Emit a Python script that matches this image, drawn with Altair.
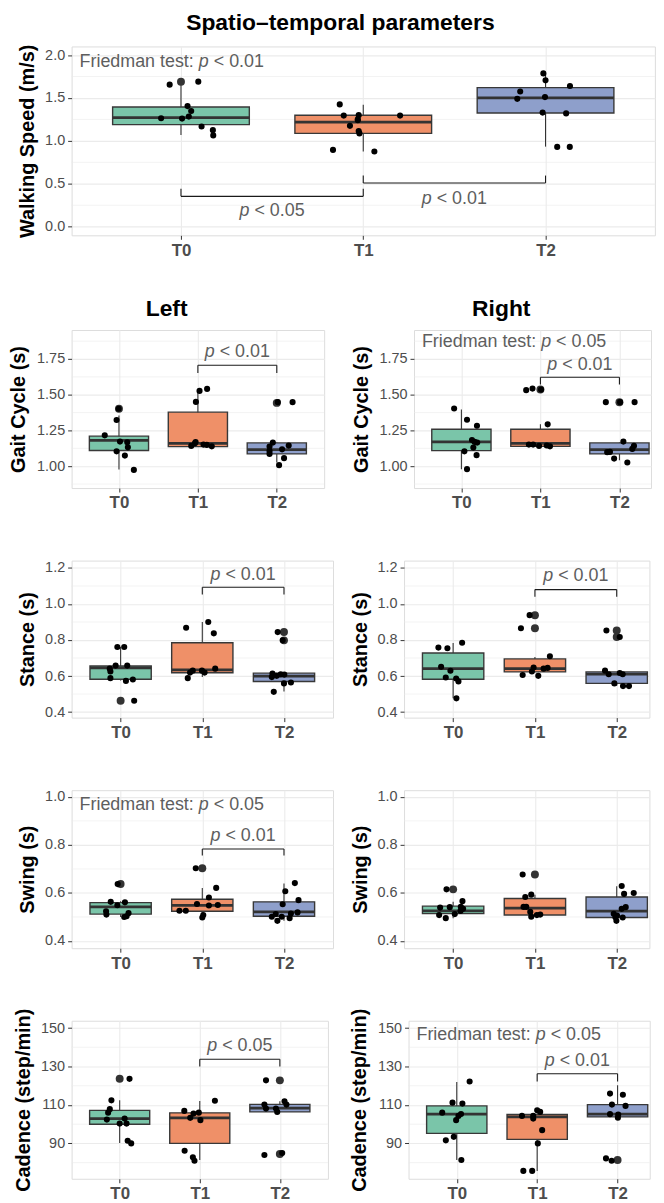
import altair as alt
import pandas as pd

FONT = "Liberation Sans"
GROUPS = ["T0", "T1", "T2"]
COLORS = ["#7AC5A9", "#EF9068", "#8E9FCB"]

# ---------------- data ----------------
# box stats per group: [whisker low, Q1, median, Q3, whisker high]
SPEED_STATS = [[1.068, 1.19, 1.272, 1.394, 1.71], [0.876, 1.087, 1.218, 1.298, 1.42], [0.933, 1.325, 1.502, 1.621, 1.786]]
# jittered points: (group, jitter offset, value)
SPEED_POINTS = [
    (0, -0.062, 1.655), (0, 0.095, 1.69), (0, 0.036, 1.405), (0, 0.056, 1.348), (0, 0.043, 1.283),
    (0, -0.109, 1.264), (0, 0.006, 1.26), (0, 0.113, 1.168), (0, 0.175, 1.125), (0, 0.177, 1.064),
    (1, -0.129, 1.425), (1, -0.107, 1.295), (1, -0.025, 1.30), (1, -0.03, 1.252), (1, -0.03, 1.24),
    (1, -0.073, 1.175), (1, -0.025, 1.114), (1, -0.021, 1.087), (1, 0.202, 1.295), (1, -0.166, 0.895), (1, 0.061, 0.876),
    (2, -0.012, 1.786), (2, 0.0, 1.705), (2, 0.134, 1.64), (2, -0.139, 1.575), (2, -0.155, 1.49),
    (2, -0.003, 1.51), (2, -0.016, 1.33), (2, 0.113, 1.32), (2, 0.064, 0.93), (2, 0.133, 0.93)]
SPEED_OUTLIERS = [(0, 1.69)]
# brackets: (from group, to group, line value, tick end value, label value, label)
SPEED_BRACKETS = [(0, 1, 0.354, 0.442, 0.181, "< 0.05"), (1, 2, 0.51, 0.596, 0.327, "< 0.01")]
SPEED_FRIEDMAN = (1.924, "< 0.01")

GAIT_L_STATS = [[0.977, 1.11, 1.18, 1.21, 1.355], [1.137, 1.137, 1.16, 1.378, 1.52], [1.026, 1.086, 1.116, 1.163, 1.165]]
GAIT_L_POINTS = [
    (0, -0.004, 1.402), (0, -0.03, 1.323), (0, -0.18, 1.216), (0, 0.013, 1.172), (0, 0.105, 1.167),
    (0, 0.113, 1.132), (0, -0.03, 1.104), (0, 0.075, 1.074), (0, 0.189, 0.974),
    (1, 0.117, 1.541), (1, 0.021, 1.527), (1, -0.025, 1.45), (1, -0.029, 1.169), (1, -0.084, 1.142),
    (1, 0.071, 1.151), (1, 0.113, 1.149), (1, 0.176, 1.139), (1, -0.037, 1.16),
    (2, 0.013, 1.448), (2, 0.2, 1.448), (2, -0.05, 1.165), (2, -0.092, 1.137), (2, 0.151, 1.144),
    (2, 0.067, 1.118), (2, -0.092, 1.107), (2, -0.092, 1.086), (2, 0.092, 1.056), (2, 0.029, 1.007)]
GAIT_L_OUTLIERS = [(0, 1.402), (2, 1.443)]
GAIT_L_BRACKETS = [(1, 2, 1.706, 1.652, 1.796, "< 0.01")]

GAIT_R_STATS = [[0.979, 1.109, 1.17, 1.258, 1.397], [1.139, 1.139, 1.16, 1.258, 1.293], [1.042, 1.086, 1.116, 1.163, 1.165]]
GAIT_R_POINTS = [
    (0, -0.092, 1.404), (0, 0.071, 1.325), (0, 0.197, 1.283), (0, 0.134, 1.183), (0, 0.2, 1.165),
    (0, 0.151, 1.13), (0, 0.038, 1.104), (0, 0.192, 1.077), (0, 0.071, 0.979), (0, 0.167, 1.17),
    (1, -0.18, 1.532), (1, -0.1, 1.543), (1, 0.008, 1.536), (1, 0.092, 1.293), (1, -0.146, 1.151),
    (1, -0.092, 1.151), (1, -0.017, 1.142), (1, 0.121, 1.139), (1, 0.08, 1.145),
    (2, -0.172, 1.448), (2, 0.008, 1.448), (2, 0.192, 1.448), (2, 0.05, 1.172), (2, 0.184, 1.142),
    (2, 0.163, 1.121), (2, -0.155, 1.098), (2, -0.12, 1.10), (2, -0.067, 1.053), (2, 0.1, 1.026)]
GAIT_R_OUTLIERS = [(1, 1.536), (2, 1.448)]
GAIT_R_BRACKETS = [(1, 2, 1.622, 1.571, 1.711, "< 0.01")]
GAIT_R_FRIEDMAN = (1.866, "< 0.05")

STANCE_L_STATS = [[0.575, 0.582, 0.645, 0.656, 0.761], [0.595, 0.618, 0.634, 0.785, 0.9], [0.514, 0.57, 0.6, 0.616, 0.616]]
STANCE_L_POINTS = [
    (0, -0.04, 0.761), (0, 0.044, 0.761), (0, -0.061, 0.658), (0, -0.133, 0.641), (0, -0.125, 0.625),
    (0, 0.081, 0.658), (0, -0.125, 0.588), (0, 0.065, 0.573), (0, 0.15, 0.581), (0, 0.166, 0.463),
    (1, 0.073, 0.9), (1, -0.198, 0.868), (1, 0.141, 0.837), (1, -0.117, 0.63), (1, -0.004, 0.63),
    (1, 0.158, 0.641), (1, -0.15, 0.619), (1, 0.028, 0.619), (1, -0.178, 0.588),
    (2, -0.077, 0.844), (2, -0.016, 0.798), (2, -0.141, 0.614), (2, -0.04, 0.61), (2, 0.004, 0.608),
    (2, -0.149, 0.594), (2, -0.089, 0.601), (2, 0.0, 0.559), (2, 0.085, 0.564), (2, -0.125, 0.512)]
STANCE_L_OUTLIERS = [(0, 0.463), (2, 0.844), (2, 0.798)]
STANCE_L_BRACKETS = [(1, 2, 1.093, 1.053, 1.163, "< 0.01")]

STANCE_R_STATS = [[0.477, 0.582, 0.641, 0.728, 0.783], [0.623, 0.623, 0.641, 0.695, 0.706], [0.546, 0.559, 0.61, 0.623, 0.623]]
STANCE_R_POINTS = [
    (0, -0.18, 0.758), (0, -0.07, 0.754), (0, 0.11, 0.785), (0, -0.147, 0.651), (0, -0.033, 0.629),
    (0, -0.09, 0.592), (0, 0.037, 0.586), (0, 0.065, 0.57), (0, 0.04, 0.476),
    (1, -0.065, 0.938), (1, -0.171, 0.865), (1, 0.183, 0.71), (1, -0.016, 0.647), (1, 0.106, 0.641),
    (1, 0.155, 0.645), (1, -0.037, 0.625), (1, -0.15, 0.606), (1, 0.041, 0.601),
    (2, -0.126, 0.853), (2, 0.037, 0.817), (2, -0.143, 0.63), (2, -0.098, 0.61), (2, 0.037, 0.617),
    (2, 0.073, 0.61), (2, -0.029, 0.559), (2, 0.077, 0.544), (2, 0.15, 0.544)]
STANCE_R_OUTLIERS = [(1, 0.938), (1, 0.865), (2, 0.853), (2, 0.817)]
STANCE_R_BRACKETS = [(1, 2, 1.08, 1.04, 1.154, "< 0.01")]

SWING_L_STATS = [[0.5, 0.512, 0.542, 0.56, 0.565], [0.498, 0.524, 0.548, 0.574, 0.621], [0.484, 0.503, 0.521, 0.563, 0.639]]
SWING_L_POINTS = [
    (0, -0.036, 0.637), (0, -0.121, 0.563), (0, -0.04, 0.549), (0, 0.053, 0.561), (0, -0.178, 0.524),
    (0, -0.174, 0.51), (0, 0.097, 0.516), (0, 0.073, 0.503), (0, 0.044, 0.5),
    (1, -0.08, 0.703), (1, 0.17, 0.621), (1, 0.081, 0.581), (1, -0.065, 0.554), (1, 0.081, 0.548),
    (1, 0.19, 0.55), (1, -0.28, 0.526), (1, -0.202, 0.526), (1, 0.012, 0.508), (1, 0.0, 0.498),
    (2, 0.133, 0.641), (2, 0.016, 0.607), (2, 0.178, 0.57), (2, -0.016, 0.553), (2, 0.166, 0.519),
    (2, 0.085, 0.514), (2, -0.101, 0.512), (2, -0.149, 0.501), (2, -0.028, 0.501), (2, 0.069, 0.495), (2, -0.081, 0.484)]
SWING_L_OUTLIERS = [(0, 0.637), (1, 0.703)]
SWING_L_BRACKETS = [(1, 2, 0.783, 0.756, 0.836, "< 0.01")]
SWING_L_FRIEDMAN = (0.966, "< 0.05")

SWING_R_STATS = [[0.495, 0.514, 0.525, 0.545, 0.563], [0.501, 0.508, 0.537, 0.577, 0.593], [0.484, 0.498, 0.524, 0.583, 0.628]]
SWING_R_POINTS = [
    (0, -0.081, 0.615), (0, 0.114, 0.566), (0, -0.041, 0.541), (0, -0.159, 0.539), (0, 0.094, 0.542),
    (0, 0.122, 0.534), (0, 0.09, 0.525), (0, -0.171, 0.508), (0, 0.02, 0.512), (0, -0.09, 0.495),
    (1, -0.15, 0.677), (1, -0.045, 0.593), (1, -0.118, 0.583), (1, -0.139, 0.542), (1, -0.106, 0.542),
    (1, -0.057, 0.521), (1, -0.045, 0.501), (1, 0.024, 0.508), (1, 0.065, 0.51),
    (2, 0.061, 0.629), (2, 0.09, 0.596), (2, 0.208, 0.6), (2, 0.11, 0.541), (2, 0.061, 0.534),
    (2, -0.037, 0.513), (2, 0.004, 0.506), (2, -0.016, 0.499), (2, 0.073, 0.498), (2, -0.004, 0.484)]
SWING_R_OUTLIERS = [(0, 0.615), (1, 0.677)]

CAD_L_STATS = [[90.2, 100.0, 102.9, 107.2, 112.4], [81.4, 90.0, 103.3, 105.9, 112.1], [106.4, 106.4, 108.4, 110.3, 111.9]]
CAD_L_POINTS = [
    (0, 0.123, 123.6), (0, -0.103, 112.4), (0, -0.123, 107.8), (0, -0.144, 106.0), (0, -0.16, 102.4),
    (0, 0.062, 102.9), (0, 0.086, 100.3), (0, 0.0, 100.3), (0, 0.1, 91.4), (0, 0.144, 90.0),
    (1, 0.189, 112.2), (1, -0.193, 106.9), (1, -0.078, 105.5), (1, -0.012, 106.0), (1, -0.119, 103.3),
    (1, 0.008, 102.1), (1, -0.189, 86.2), (1, -0.086, 82.8), (1, -0.066, 81.0),
    (2, -0.173, 122.8), (2, -0.193, 110.2), (2, -0.173, 108.1), (2, -0.049, 108.1), (2, -0.033, 106.4),
    (2, 0.058, 111.9), (2, 0.082, 110.2), (2, -0.193, 84.0), (2, 0.029, 85.0)]
CAD_L_OUTLIERS = [(0, 123.6), (2, 122.8), (2, 84.5)]
CAD_L_BRACKETS = [(1, 2, 133.8, 130.0, 140.5, "< 0.05")]

CAD_R_STATS = [[81.4, 95.2, 105.2, 109.5, 121.9], [75.7, 92.1, 103.8, 105.0, 105.0], [103.8, 103.8, 105.2, 110.2, 120.2]]
CAD_R_POINTS = [
    (0, 0.16, 122.2), (0, -0.053, 111.2), (0, 0.07, 110.7), (0, -0.181, 106.0), (0, 0.053, 105.3),
    (0, 0.021, 104.3), (0, -0.008, 102.1), (0, -0.037, 93.4), (0, -0.136, 91.6), (0, 0.057, 81.4),
    (1, 0.0, 107.2), (1, 0.037, 106.4), (1, -0.189, 104.3), (1, -0.049, 104.3), (1, -0.049, 102.9),
    (1, 0.062, 96.9), (1, 0.008, 90.0), (1, -0.172, 75.7), (1, -0.062, 75.7),
    (2, -0.094, 115.9), (2, 0.066, 115.3), (2, -0.07, 110.2), (2, 0.099, 109.5), (2, -0.094, 105.2),
    (2, 0.008, 105.0), (2, 0.004, 103.4), (2, -0.144, 82.2), (2, -0.074, 81.0)]
CAD_R_OUTLIERS = [(2, 81.4)]
CAD_R_BRACKETS = [(1, 2, 126.2, 122.2, 133.1, "< 0.01")]
CAD_R_FRIEDMAN = (146.4, "< 0.05")

# axis set-ups: (domain, tick values, format, title)
SPEED_Y = ([-0.1, 2.1], [0.0, 0.5, 1.0, 1.5, 2.0], ".1f", "Walking Speed (m/s)")
GAIT_Y = ([0.847, 1.953], [1.0, 1.25, 1.5, 1.75], ".2f", "Gait Cycle (s)")
STANCE_Y = ([0.369, 1.241], [0.4, 0.6, 0.8, 1.0, 1.2], ".1f", "Stance (s)")
SWING_Y = ([0.37, 1.028], [0.4, 0.6, 0.8, 1.0], ".1f", "Swing (s)")
CAD_Y = ([71.6, 153.8], [90, 110, 130, 150], "d", "Cadence (step/min)")

# ---------------- styling ----------------
ANN_COLOR = "#5E5E5E"
ANN_FS = 18
GRID = "#EBEBEB"
DARK = "#333333"
BOX_HALF = 0.375
X_EXTENT = 26
X_MIN = -0.6
X_MAX_FULL = 2.6
X_MAX_CUT = 2.4   # right-hand panels run past the page edge in the original


def minor_values(ticks, dom):
    step = ticks[1] - ticks[0]
    vals = [t - step / 2 for t in ticks] + [ticks[-1] + step / 2]
    return [v for v in vals if dom[0] <= v <= dom[1]]


def panel(stats, points, outliers, yspec, unit, height, yext, xmax=X_MAX_FULL,
          brackets=(), friedman=None, title=None):
    ydom, yticks, yfmt, ytitle = yspec
    width = round((xmax - X_MIN) * unit, 1)
    xs = alt.Scale(domain=[X_MIN, xmax], nice=False, zero=False)
    ys = alt.Scale(domain=ydom, nice=False, zero=False)
    xaxis = alt.Axis(values=[0, 1, 2], labelExpr="['T0','T1','T2'][datum.value]", title=None,
                     labelFont=FONT, labelFontSize=17, labelFontWeight="bold", labelColor="#4D4D4D",
                     labelPadding=3, tickSize=4, tickColor=DARK, domain=False, grid=True,
                     gridColor=GRID, gridWidth=1.1, labelFlush=False, labelOverlap=False,
                     minExtent=X_EXTENT, maxExtent=X_EXTENT)
    yaxis = alt.Axis(values=yticks, format=yfmt, title=ytitle, titleFont=FONT, titleFontSize=20,
                     titleFontWeight="bold", titleColor="black", titlePadding=8,
                     labelFont=FONT, labelFontSize=14.5, labelColor="#4D4D4D", labelPadding=3,
                     tickSize=4, tickColor=DARK, domain=False, grid=True, gridColor=GRID,
                     gridWidth=1.1, labelOverlap=False, minExtent=yext, maxExtent=yext)

    def X(f):
        return alt.X(f, type="quantitative", scale=xs, axis=xaxis)

    def Y(f):
        return alt.Y(f, type="quantitative", scale=ys, axis=yaxis)

    box_df = pd.DataFrame([{"g": i, "grp": GROUPS[i], "x1": i - BOX_HALF, "x2": i + BOX_HALF,
                            "lo": s[0], "q1": s[1], "med": s[2], "q3": s[3], "hi": s[4]}
                           for i, s in enumerate(stats)])
    pts_df = pd.DataFrame([{"x": g + o, "v": v} for g, o, v in points])
    out_df = pd.DataFrame([{"x": g, "v": v} for g, v in outliers])
    minor_df = pd.DataFrame({"v": minor_values(yticks, ydom)})

    layers = [
        alt.Chart(minor_df).mark_rule(color=GRID, strokeWidth=0.6).encode(y=Y("v")),
        alt.Chart(box_df).mark_rule(color=DARK, strokeWidth=1.1).encode(x=X("g"), y=Y("lo"), y2=alt.Y2("hi")),
        alt.Chart(box_df).mark_rect(stroke="#383838", strokeWidth=1.4).encode(
            x=X("x1"), x2=alt.X2("x2"), y=Y("q1"), y2=alt.Y2("q3"),
            color=alt.Color("grp:N", scale=alt.Scale(domain=GROUPS, range=COLORS), legend=None)),
        alt.Chart(box_df).mark_rule(color=DARK, strokeWidth=2.8).encode(x=X("x1"), x2=alt.X2("x2"), y=Y("med")),
        alt.Chart(out_df).mark_circle(color="#333333", size=64, opacity=1).encode(x=X("x"), y=Y("v")),
        alt.Chart(pts_df).mark_circle(color="black", size=38, opacity=1).encode(x=X("x"), y=Y("v")),
    ]
    if brackets:
        segs = []
        labs = []
        for g1, g2, yl, yt, ylab, txt in brackets:
            segs += [{"x1": g1, "x2": g2, "y1": yl, "y2": yl},
                     {"x1": g1, "x2": g1, "y1": yl, "y2": yt},
                     {"x1": g2, "x2": g2, "y1": yl, "y2": yt}]
            labs.append({"x": (g1 + g2) / 2, "y": ylab, "t": txt})
        seg_df = pd.DataFrame(segs)
        lab_df = pd.DataFrame(labs)
        layers.append(alt.Chart(seg_df).mark_rule(color="#1A1A1A", strokeWidth=1.1).encode(
            x=X("x1"), x2=alt.X2("x2"), y=Y("y1"), y2=alt.Y2("y2")))
        layers.append(alt.Chart(lab_df).mark_text(text="p", font=FONT, fontSize=ANN_FS, fontStyle="italic",
                                                  color=ANN_COLOR, align="left", baseline="middle", dx=-32.8).encode(
            x=X("x"), y=Y("y")))
        layers.append(alt.Chart(lab_df).mark_text(font=FONT, fontSize=ANN_FS, color=ANN_COLOR, align="left",
                                                  baseline="middle", dx=-17.8).encode(
            x=X("x"), y=Y("y"), text="t:N"))
    if friedman:
        fy, ftxt = friedman
        f_df = pd.DataFrame([{"x": X_MIN, "y": fy, "t": ftxt}])
        base = dict(font=FONT, fontSize=ANN_FS, color=ANN_COLOR, align="left", baseline="middle")
        layers.append(alt.Chart(f_df).mark_text(text="Friedman test:", dx=8, **base).encode(x=X("x"), y=Y("y")))
        layers.append(alt.Chart(f_df).mark_text(text="p", dx=128, fontStyle="italic", **base).encode(x=X("x"), y=Y("y")))
        layers.append(alt.Chart(f_df).mark_text(dx=143, **base).encode(x=X("x"), y=Y("y"), text="t:N"))

    ch = alt.layer(*layers).properties(width=width, height=height)
    if title:
        ch = ch.properties(title=alt.TitleParams(text=title, font=FONT, fontSize=23, fontWeight="bold",
                                                 color="black", anchor="middle", frame="bounds", offset=8.7))
    return ch


top = panel(SPEED_STATS, SPEED_POINTS, SPEED_OUTLIERS, SPEED_Y, 183.4, 190, 26.3,
            brackets=SPEED_BRACKETS, friedman=SPEED_FRIEDMAN).properties(
    title=alt.TitleParams(text="Spatio–temporal parameters", font=FONT, fontSize=23, fontWeight="bold",
                          color="black", anchor="middle", frame="bounds", offset=9, dx=4))

gait = alt.hconcat(
    panel(GAIT_L_STATS, GAIT_L_POINTS, GAIT_L_OUTLIERS, GAIT_Y, 79.4, 159, 35.2,
          brackets=GAIT_L_BRACKETS, title="Left"),
    panel(GAIT_R_STATS, GAIT_R_POINTS, GAIT_R_OUTLIERS, GAIT_Y, 79.5, 159, 35.2, xmax=X_MAX_CUT,
          brackets=GAIT_R_BRACKETS, friedman=GAIT_R_FRIEDMAN, title="Right"),
    spacing=25.5)
stance = alt.hconcat(
    panel(STANCE_L_STATS, STANCE_L_POINTS, STANCE_L_OUTLIERS, STANCE_Y, 82.2, 158, 26.2,
          brackets=STANCE_L_BRACKETS),
    panel(STANCE_R_STATS, STANCE_R_POINTS, STANCE_R_OUTLIERS, STANCE_Y, 82.3, 158, 26.2, xmax=X_MAX_CUT,
          brackets=STANCE_R_BRACKETS),
    spacing=15.5)
swing = alt.hconcat(
    panel(SWING_L_STATS, SWING_L_POINTS, SWING_L_OUTLIERS, SWING_Y, 82.2, 159, 26.2,
          brackets=SWING_L_BRACKETS, friedman=SWING_L_FRIEDMAN),
    panel(SWING_R_STATS, SWING_R_POINTS, SWING_R_OUTLIERS, SWING_Y, 82.3, 159, 26.2, xmax=X_MAX_CUT),
    spacing=15.5)
cad = alt.hconcat(
    panel(CAD_L_STATS, CAD_L_POINTS, CAD_L_OUTLIERS, CAD_Y, 80.6, 159, 30.8,
          brackets=CAD_L_BRACKETS),
    panel(CAD_R_STATS, CAD_R_POINTS, CAD_R_OUTLIERS, CAD_Y, 80.9, 159, 30.8, xmax=X_MAX_CUT,
          brackets=CAD_R_BRACKETS, friedman=CAD_R_FRIEDMAN),
    spacing=20)

upper_rows = alt.vconcat(gait, stance, swing, spacing=44)
inner = alt.vconcat(upper_rows, cad, spacing=32)
chart = alt.vconcat(top, inner, spacing=35.3).properties(
    padding={"left": 0, "top": 0, "right": 0, "bottom": 0}
).configure_view(stroke=DARK, strokeWidth=1.2).configure(background="white")

chart.save("out.html", embed_options={"renderer": "svg", "actions": False})
